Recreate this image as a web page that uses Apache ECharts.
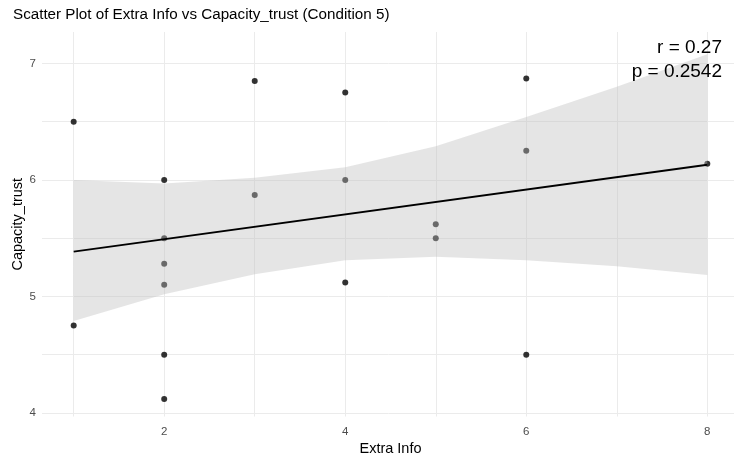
<!DOCTYPE html>
<html>
<head>
<meta charset="utf-8">
<script src="https://cdn.jsdelivr.net/npm/echarts@6/dist/echarts.min.js"></script>
<style>html,body{margin:0;padding:0;background:#fff;}#c{width:734px;height:460px;}</style>
</head>
<body>
<div id="c"></div>
<script>
// Data
const extraInfo = [1, 1, 2, 2, 2, 2, 2, 2, 3, 3, 4, 4, 4, 5, 5, 6, 6, 6, 8];
const capacityTrust = [6.5, 4.75, 6.0, 5.5, 5.28, 5.1, 4.5, 4.12, 6.85, 5.87, 6.75, 6.0, 5.12, 5.62, 5.5, 6.87, 6.25, 4.5, 6.14];
// Fitted line (read endpoints)
const fitX = [1, 8];
const fitY = [5.385, 6.13];
// Confidence band (read)
const bandX = [1, 2, 3, 4, 5, 6, 7, 8];
const bandUpper = [6.00, 5.97, 6.02, 6.11, 6.29, 6.54, 6.80, 7.08];
const bandLower = [4.79, 5.02, 5.19, 5.31, 5.34, 5.31, 5.26, 5.185];
// Axis ticks
const xGridValues = [1, 2, 3, 4, 5, 6, 7, 8];
const xLabelValues = [2, 4, 6, 8];
const yGridValues = [4, 4.5, 5, 5.5, 6, 6.5, 7];
const yLabelValues = [4, 5, 6, 7];
const titleText = 'Scatter Plot of Extra Info vs Capacity_trust (Condition 5)';
const rText = 'r = 0.27';
const pText = 'p = 0.2542';

const FONT = 'Liberation Sans, Arial, sans-serif';
const chart = echarts.init(document.getElementById('c'), null, {renderer: 'canvas'});
const scatterData = extraInfo.map((x, i) => [x, capacityTrust[i]]);
const fitData = fitX.map((x, i) => [x, fitY[i]]);

chart.setOption({
  animation: false,
  backgroundColor: '#ffffff',
  title: [
    {text: titleText, left: 13, top: 7, padding: 0,
     textStyle: {fontFamily: FONT, fontSize: 15.2, fontWeight: 'normal', color: '#000'}},
    {text: rText, right: 12, top: 38, padding: 0,
     textStyle: {fontFamily: FONT, fontSize: 19, fontWeight: 'normal', color: '#000'}},
    {text: pText, right: 12, top: 62, padding: 0,
     textStyle: {fontFamily: FONT, fontSize: 19, fontWeight: 'normal', color: '#000'}}
  ],
  grid: {left: 42, width: 697, top: 32, bottom: 43.5, containLabel: false, outerBoundsMode: 'none'},
  xAxis: {
    type: 'value', min: 0.65, max: 8.35,
    name: 'Extra Info', nameLocation: 'middle', nameGap: 25, nameMoveOverlap: false,
    nameTextStyle: {fontFamily: FONT, fontSize: 14.5, color: '#000'},
    axisLine: {show: false},
    axisTick: {show: false, customValues: xGridValues},
    axisLabel: {customValues: xLabelValues, margin: 9, fontFamily: FONT, fontSize: 11.5, color: '#4d4d4d'},
    splitLine: {show: true, lineStyle: {color: '#ebebeb', width: 1}}
  },
  yAxis: {
    type: 'value', min: 3.97, max: 7.27,
    name: 'Capacity_trust', nameLocation: 'middle', nameGap: 17, nameMoveOverlap: false,
    nameTextStyle: {fontFamily: FONT, fontSize: 14.5, color: '#000'},
    axisLine: {show: false},
    axisTick: {show: false, customValues: yGridValues},
    axisLabel: {customValues: yLabelValues, margin: 6, fontFamily: FONT, fontSize: 11.5, color: '#4d4d4d'},
    splitLine: {show: true, lineStyle: {color: '#ebebeb', width: 1}}
  },
  series: [
    {
      type: 'scatter', data: scatterData, symbolSize: 6, z: 2,
      itemStyle: {color: '#000'}, silent: true
    },
    {
      type: 'custom', z: 3, silent: true,
      data: [[bandX[0], bandUpper[0]]],
      renderItem: function (params, api) {
        const pts = [];
        for (let i = 0; i < bandX.length; i++) pts.push(api.coord([bandX[i], bandUpper[i]]));
        for (let i = bandX.length - 1; i >= 0; i--) pts.push(api.coord([bandX[i], bandLower[i]]));
        return {type: 'polygon', shape: {points: pts},
                style: {fill: 'rgba(190,190,190,0.4)', stroke: null}};
      }
    },
    {
      type: 'line', data: fitData, z: 4, symbol: 'none', silent: true,
      lineStyle: {color: '#000', width: 2}
    }
  ]
});
</script>
</body>
</html>
